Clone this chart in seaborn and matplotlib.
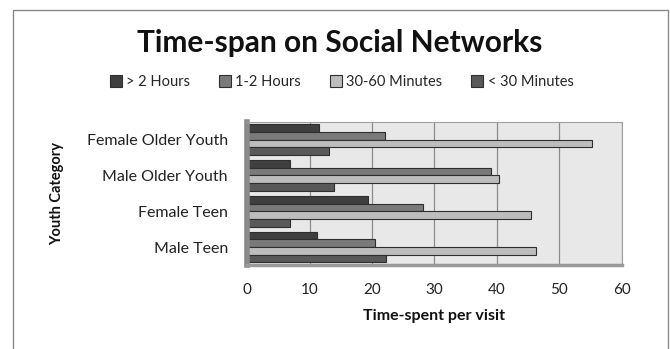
import matplotlib
matplotlib.use("Agg")
import matplotlib.pyplot as plt
import seaborn as sns
import pandas as pd
from matplotlib.patches import Rectangle

# Youth categories (top to bottom) and time-span groups
categories = ["Female Older Youth", "Male Older Youth", "Female Teen", "Male Teen"]
spans = ["> 2 Hours", "1-2 Hours", "30-60 Minutes", "< 30 Minutes"]

over_2h = [11.5, 6.8, 19.3, 11.1]
h1_2 = [22.1, 39.0, 28.2, 20.4]
m30_60 = [55.2, 40.3, 45.5, 46.3]
under_30 = [13.1, 13.9, 6.9, 22.2]

x_ticks = [0, 10, 20, 30, 40, 50, 60]

rows = []
for span, vals in zip(spans, [over_2h, h1_2, m30_60, under_30]):
    for cat, v in zip(categories, vals):
        rows.append({"Youth Category": cat, "Span": span, "Value": v})
df = pd.DataFrame(rows)

palette = {"> 2 Hours": "#3f3f3f", "1-2 Hours": "#7a7a7a",
           "30-60 Minutes": "#bdbdbd", "< 30 Minutes": "#595959"}

sns.set_style("white")
plt.rcParams["font.family"] = ["Lato", "DejaVu Sans"]

fig = plt.figure(figsize=(6.7, 3.49), dpi=100)
ax = fig.add_axes([0.369, 0.241, 0.559, 0.41])

sns.barplot(data=df, y="Youth Category", x="Value", hue="Span",
            order=categories, hue_order=spans, palette=palette,
            orient="h", width=0.86, edgecolor="#2e2e2e", linewidth=0.8,
            saturation=1, ax=ax, legend=True)

ax.set_facecolor("#e8e8e8")
ax.set_xlim(0, 60)
ax.set_ylim(3.5, -0.5)
ax.set_xticks(x_ticks)
ax.set_xticklabels([str(t) for t in x_ticks], fontsize=11, color="#222222")
ax.xaxis.grid(True, color="#8c8c8c", linewidth=0.9)
ax.set_axisbelow(True)

ax.set_yticks(range(len(categories)))
ax.set_yticklabels(categories, fontsize=11.5, color="#222222")
ax.set_yticks([-0.5, 0.5, 1.5, 2.5, 3.5], minor=True)
ax.tick_params(axis="y", which="major", length=0, pad=14)
ax.tick_params(axis="y", which="minor", length=4, color="#888888", direction="out")
ax.tick_params(axis="x", length=5, color="#888888", direction="out", pad=8)

for side in ["top", "right"]:
    ax.spines[side].set_color("#a0a0a0")
    ax.spines[side].set_linewidth(0.8)
ax.spines["left"].set_color("#8a8a8a")
ax.spines["left"].set_linewidth(4)
ax.spines["bottom"].set_color("#9a9a9a")
ax.spines["bottom"].set_linewidth(2.5)

ax.set_xlabel("Time-spent per visit", fontsize=11.5, fontweight="bold",
              labelpad=9, color="#111111")
ax.set_ylabel("")
fig.text(0.085, 0.445, "Youth Category", rotation=90, fontsize=10.5,
         fontweight="bold", ha="center", va="center", color="#111111")

fig.text(0.507, 0.878, "Time-span on Social Networks", fontsize=21.5,
         fontweight="bold", ha="center", va="center", color="#111111")

handles, labels = ax.get_legend_handles_labels()
ax.legend_.remove()
fig.legend(handles, labels, loc="center", bbox_to_anchor=(0.51, 0.765),
           ncol=4, frameon=False, fontsize=10.5, handlelength=0.8,
           handleheight=0.8, handletextpad=0.3, columnspacing=2.0)

fig.patches.append(Rectangle((13 / 670, -0.05), 655 / 670, 1 - 10 / 349 + 0.05,
                             transform=fig.transFigure, fill=False,
                             edgecolor="#8a8a8a", linewidth=1.0))

fig.savefig("out.png", dpi=100)
